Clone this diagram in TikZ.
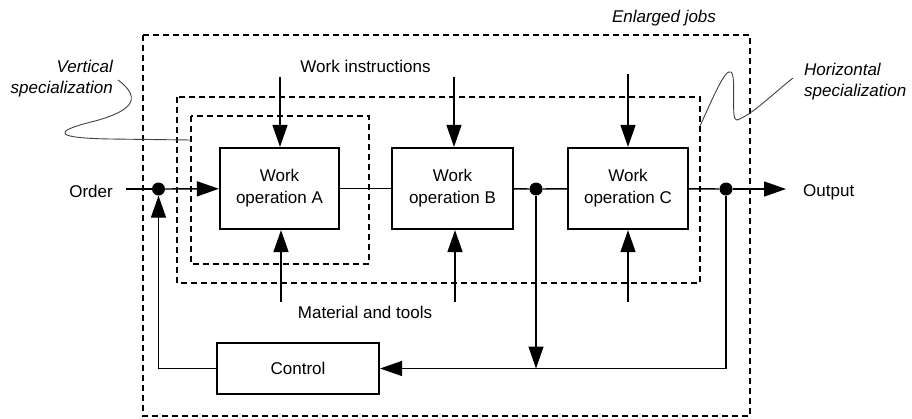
\documentclass[tikz,border=0pt]{standalone}
\usepackage{fontspec}
\setmainfont{Liberation Sans}
\usetikzlibrary{arrows.meta}
\begin{document}
\begin{tikzpicture}[x=1pt,y=-1pt,
  every node/.style={font=\fontsize{17}{22}\selectfont, inner sep=0pt},
  opbox/.style={draw, line width=2.2pt, minimum height=81pt, align=center},
  ctlbox/.style={draw, line width=2.2pt, minimum width=162pt, minimum height=51pt},
  dot/.style={circle, fill=black, minimum size=13pt},
  flow/.style={line width=1.4pt},
  tip/.style={-{Triangle[length=22pt,width=15pt]}},
  group/.style={line width=1.2pt, dash pattern=on 6pt off 4pt},
  callout/.style={line width=0.9pt, black!75},
  note/.style={font=\fontsize{17}{21}\selectfont\itshape}]
\useasboundingbox (0,0) rectangle (912,418);

% nested job boundaries
\draw[group] (143,35) rectangle (750,416);
\draw[group] (177,97) rectangle (700,283);
\draw[group] (191,116) rectangle (369,264);

% work operations and control
\node[opbox, minimum width=119pt] (opA) at (279.5,188.5) {Work\\operation A};
\node[opbox, minimum width=121pt] (opB) at (452.5,188.5) {Work\\operation B};
\node[opbox, minimum width=120pt] (opC) at (628,188.5) {Work\\operation C};
\node[ctlbox] (ctl) at (298,368.5) {Control};

% branch points
\node[dot] (d1) at (158.5,189) {};
\node[dot] (d2) at (536,189) {};
\node[dot] (d3) at (726,189) {};

% input and output
\node[anchor=base east] (order) at (113,197) {Order};
\node[anchor=base west] (output) at (803,196) {Output};
\coordinate (oin) at (126,189);
\coordinate (oout) at (786,189);

% main flow
\draw[flow] (oin) -- (d1);
\draw[flow, tip] (d1) -- (opA);
\draw[flow] (opA) -- (opB);
\draw[flow] (opB) -- (d2) -- (opC);
\draw[flow] (opC) -- (d3);
\draw[flow, tip] (d3) -- (oout);

% feedback through control
\coordinate (j2) at (536,368.5);
\coordinate (j3) at (726,368.5);
\draw[flow, tip] (d3) -- (j3) -- (ctl.east);
\draw[flow, tip] (d2) -- (j2);
\draw[flow, tip] (ctl.west) -| (d1.south);

% work instructions
\node[anchor=base] (wi) at (365.5,72) {Work instructions};
\coordinate (wA) at (280,77);
\coordinate (wB) at (454,77);
\coordinate (wC) at (628,74);
\draw[flow, tip] (wA) -- (wA |- opA.north);
\draw[flow, tip] (wB) -- (wB |- opB.north);
\draw[flow, tip] (wC) -- (wC |- opC.north);

% material and tools
\node[anchor=base] (mt) at (365,318) {Material and tools};
\coordinate (mA) at (281,302);
\coordinate (mB) at (455,302);
\coordinate (mC) at (628,302);
\draw[flow, tip] (mA) -- (mA |- opA.south);
\draw[flow, tip] (mB) -- (mB |- opB.south);
\draw[flow, tip] (mC) -- (mC |- opC.south);

% boundary labels
\node[note, anchor=base] (ej) at (664,22) {Enlarged jobs};
\node[note, anchor=north east, align=right] (vs) at (113,60) {Vertical\\specialization};
\node[note, anchor=north west, align=left] (hs) at (804,63) {Horizontal\\specialization};

% callout squiggles
\draw[callout] (118,80) .. controls (145,100) and (128,112) .. (95,121)
  .. controls (50,132) and (55,138) .. (110,139) -- (191,140);
\draw[callout] (700,126) .. controls (712,100) and (725,68) .. (731,72)
  .. controls (737,76) and (730,122) .. (737,120)
  .. controls (752,115) and (775,92) .. (793,78);
\end{tikzpicture}
\end{document}
